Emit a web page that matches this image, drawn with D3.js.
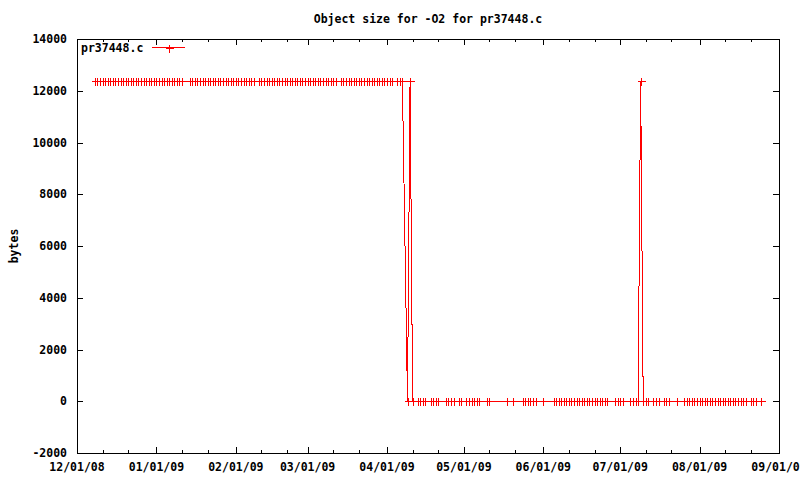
<!DOCTYPE html>
<html><head><meta charset="utf-8">
<script src="https://cdn.jsdelivr.net/npm/d3@7"></script>
<style>
body{margin:0;background:#fff}
svg{display:block}
text{font-family:"DejaVu Sans Mono",monospace;font-size:11.5px;font-weight:bold;fill:#000}
</style>
</head><body>
<svg id="chart" width="800" height="480"></svg>
<script>
const chartTitle = "Object size for -O2 for pr37448.c";
const seriesName = "pr37448.c";
const yAxisLabel = "bytes";
const yTickValues = [-2000, 0, 2000, 4000, 6000, 8000, 10000, 12000, 14000];
const xTickLabels = ["12/01/08","01/01/09","02/01/09","03/01/09","04/01/09","05/01/09","06/01/09","07/01/09","08/01/09","09/01/09"];

const buildDates = [
 // Dec 2008 (24)
 "12/08/08","12/09/08","12/10/08","12/11/08","12/12/08","12/13/08","12/14/08","12/15/08","12/16/08","12/17/08","12/18/08","12/19/08",
 "12/20/08","12/21/08","12/22/08","12/23/08","12/24/08","12/25/08","12/26/08","12/27/08","12/28/08","12/29/08","12/30/08","12/31/08",
 // Jan 2009 (29)
 "01/01/09","01/02/09","01/03/09","01/04/09","01/05/09","01/06/09","01/07/09","01/08/09","01/09/09","01/10/09","01/11/09",
 "01/14/09","01/15/09","01/16/09","01/17/09","01/18/09","01/19/09","01/20/09","01/21/09","01/22/09","01/23/09","01/24/09",
 "01/25/09","01/26/09","01/27/09","01/28/09","01/29/09","01/30/09","01/31/09",
 // Feb (27)
 "02/01/09","02/02/09","02/03/09","02/04/09","02/05/09","02/06/09","02/07/09","02/08/09",
 "02/10/09","02/11/09","02/12/09","02/13/09","02/14/09","02/15/09","02/16/09","02/17/09","02/18/09","02/19/09","02/20/09",
 "02/21/09","02/22/09","02/23/09","02/24/09","02/25/09","02/26/09","02/27/09","02/28/09",
 // Mar (30)
 "03/01/09","03/02/09","03/03/09","03/04/09","03/05/09","03/06/09","03/07/09","03/08/09","03/09/09","03/10/09","03/11/09","03/12/09",
 "03/14/09","03/15/09","03/16/09","03/17/09","03/18/09","03/19/09","03/20/09","03/21/09","03/22/09","03/23/09","03/24/09",
 "03/25/09","03/26/09","03/27/09","03/28/09","03/29/09","03/30/09","03/31/09",
 // Apr (23)
 "04/01/09","04/02/09","04/03/09","04/05/09","04/06/09","04/07/09",
 "04/09/09","04/10/09","04/11/09",
 "04/13/09","04/14/09","04/15/09","04/16/09","04/18/09","04/19/09","04/20/09","04/21/09","04/24/09","04/25/09","04/26/09","04/27/09","04/29/09","04/30/09",
 // May (16)
 "05/02/09","05/03/09","05/04/09","05/05/09","05/06/09","05/07/09","05/10/09","05/11/09","05/18/09","05/20/09","05/24/09","05/25/09",
 "05/26/09","05/27/09","05/28/09","05/29/09",
 // Jun (25)
 "06/01/09","06/05/09","06/06/09","06/07/09","06/08/09","06/09/09","06/10/09","06/11/09","06/12/09","06/13/09","06/14/09","06/15/09",
 "06/16/09","06/17/09","06/18/09","06/19/09","06/20/09","06/21/09","06/22/09","06/23/09","06/24/09","06/25/09","06/26/09","06/29/09","06/30/09",
 // Jul (23)
 "07/01/09","07/02/09","07/05/09","07/06/09","07/07/09","07/08/09","07/09/09","07/10/09","07/11/09","07/12/09","07/14/09","07/15/09",
 "07/16/09","07/18/09","07/19/09","07/20/09","07/23/09","07/26/09","07/27/09","07/28/09","07/29/09","07/30/09","07/31/09",
 // Aug (23)
 "08/01/09","08/02/09","08/03/09","08/04/09","08/05/09","08/06/09","08/07/09","08/08/09","08/09/09","08/10/09","08/11/09","08/12/09",
 "08/13/09","08/14/09","08/15/09","08/16/09","08/17/09","08/18/09","08/19/09","08/21/09","08/22/09","08/23/09","08/25/09"
];

const objectSizes = [
 // Dec (24)
 12370,12370,12370,12370,12370,12370,12370,12370,12370,12370,12370,12370,
 12370,12370,12370,12370,12370,12370,12370,12370,12370,12370,12370,12370,
 // Jan (29)
 12370,12370,12370,12370,12370,12370,12370,12370,12370,12370,12370,
 12370,12370,12370,12370,12370,12370,12370,12370,12370,12370,12370,
 12370,12370,12370,12370,12370,12370,12370,
 // Feb (27)
 12370,12370,12370,12370,12370,12370,12370,12370,
 12370,12370,12370,12370,12370,12370,12370,12370,12370,12370,12370,
 12370,12370,12370,12370,12370,12370,12370,12370,
 // Mar (30)
 12370,12370,12370,12370,12370,12370,12370,12370,12370,12370,12370,12370,
 12370,12370,12370,12370,12370,12370,12370,12370,12370,12370,12370,
 12370,12370,12370,12370,12370,12370,12370,
 // Apr (23)
 12370,12370,12370,12370,12370,12370,
 0,12370,0,
 0,0,0,0,0,0,0,0,0,0,0,0,0,0,
 // May (16)
 0,0,0,0,0,0,0,0,0,0,0,0,
 0,0,0,0,
 // Jun (25)
 0,0,0,0,0,0,0,0,0,0,0,0,
 0,0,0,0,0,0,0,0,0,0,0,0,0,
 // Jul (23)
 0,0,0,0,0,0,12370,0,0,0,0,0,
 0,0,0,0,0,0,0,0,0,0,0,
 // Aug (23)
 0,0,0,0,0,0,0,0,0,0,0,0,
 0,0,0,0,0,0,0,0,0,0,0
];

const parseDate = d3.timeParse("%m/%d/%y");
const data = buildDates.map((d, i) => ({date: parseDate(d), value: objectSizes[i]}));
if (buildDates.length !== objectSizes.length) console.error("length mismatch", buildDates.length, objectSizes.length);

const L = 77, R = 779, T = 39, B = 453;
const svg = d3.select("#chart");

const xTickDates = xTickLabels.map(parseDate);
const x = d3.scaleTime().domain([xTickDates[0], xTickDates[xTickDates.length - 1]]).range([L, R]);
const y = d3.scaleLinear().domain([-2000, 14000]).range([B, T]);

const px = v => Math.round(v) + 0.5;

// title
svg.append("text").attr("x", 428).attr("y", 23).attr("text-anchor", "middle").text(chartTitle);

// y label
svg.append("text").attr("transform", `translate(18,${(T + B) / 2}) rotate(-90)`)
  .attr("text-anchor", "middle").text(yAxisLabel);

const axisG = svg.append("g").attr("stroke", "#000").attr("stroke-width", 1)
  .attr("shape-rendering", "crispEdges").attr("fill", "none");

// y ticks (mirrored)
yTickValues.forEach(v => {
  const yy = px(y(v));
  axisG.append("line").attr("x1", L).attr("x2", L + 6).attr("y1", yy).attr("y2", yy);
  axisG.append("line").attr("x1", R).attr("x2", R - 6).attr("y1", yy).attr("y2", yy);
  svg.append("text").attr("x", 67).attr("y", y(v) + 4).attr("text-anchor", "end").text(v);
});

// x major ticks (mirrored)
xTickDates.forEach((d, i) => {
  const xx = px(x(d));
  axisG.append("line").attr("x1", xx).attr("x2", xx).attr("y1", B).attr("y2", B - 6);
  axisG.append("line").attr("x1", xx).attr("x2", xx).attr("y1", T).attr("y2", T + 6);
  svg.append("text").attr("x", x(d)).attr("y", 471).attr("text-anchor", "middle").text(xTickLabels[i]);
});
// x minor ticks on the 11th and 21st
xTickDates.slice(0, -1).forEach(d => {
  [10, 20].forEach(off => {
    const xx = px(x(d3.timeDay.offset(d, off)));
    axisG.append("line").attr("x1", xx).attr("x2", xx).attr("y1", B).attr("y2", B - 3);
    axisG.append("line").attr("x1", xx).attr("x2", xx).attr("y1", T).attr("y2", T + 3);
  });
});

// frame
axisG.append("rect").attr("x", L + 0.5).attr("y", T + 0.5).attr("width", R - L).attr("height", B - T);

// data line
const line = d3.line().x(d => x(d.date)).y(d => y(d.value));
svg.append("path").datum(data).attr("d", line).attr("fill", "none")
  .attr("stroke", "#ff0000").attr("stroke-width", 1).attr("shape-rendering", "crispEdges");

// point markers (+)
const plus = (cx, cy) => {
  const a = px(cx), b = px(cy);
  return `M${a - 4},${b}H${a + 4}M${a},${b - 4}V${b + 4}`;
};
svg.append("path").attr("d", data.map(d => plus(x(d.date), y(d.value))).join(""))
  .attr("fill", "none").attr("stroke", "#ff0000").attr("stroke-width", 1).attr("shape-rendering", "crispEdges");

// legend
svg.append("text").attr("x", 81).attr("y", 52).text(seriesName);
svg.append("path").attr("d", `M152,47.5H185` + plus(168.5, 47.5))
  .attr("fill", "none").attr("stroke", "#ff0000").attr("stroke-width", 1).attr("shape-rendering", "crispEdges");
</script>
</body></html>
